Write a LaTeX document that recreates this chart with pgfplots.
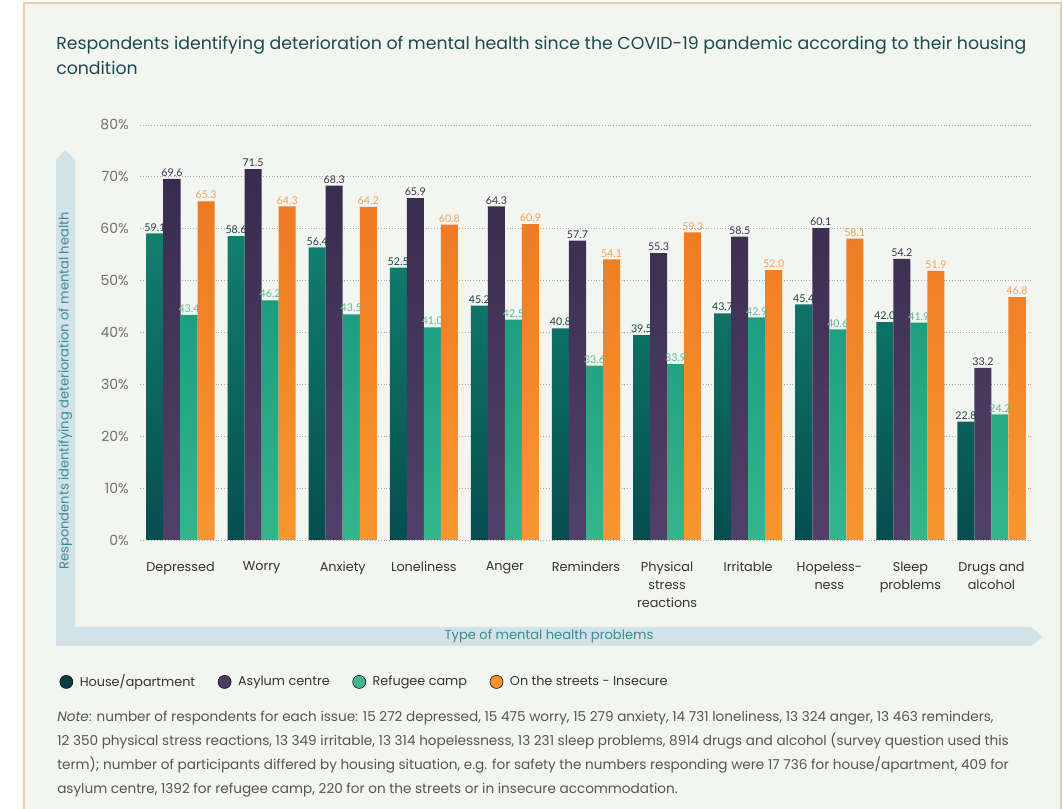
\documentclass[border=0pt]{standalone}
\usepackage{pgfplots}
\pgfplotsset{compat=1.18}
\usepackage{pgfplotstable}
\usepackage{fontspec}
\setmainfont{Poppins}
\newfontfamily\lato{Lato}

% palette
\definecolor{panelbg}{HTML}{F3F5F0}
\definecolor{framec}{HTML}{F2C9A6}
\definecolor{bandc}{HTML}{D2E3E8}
\definecolor{titlec}{HTML}{1B4A4F}
\definecolor{axistitle}{HTML}{3A8B93}
\definecolor{tickc}{HTML}{707070}
\definecolor{catc}{HTML}{333333}
\definecolor{notec}{HTML}{555555}
\definecolor{gridc}{HTML}{A8A8A8}

\definecolor{houseTop}{HTML}{11806F}
\definecolor{houseBot}{HTML}{064D4F}
\definecolor{houseLeg}{HTML}{073F44}
\definecolor{houseLab}{HTML}{1D4548}
\definecolor{asylTop}{HTML}{392B4D}
\definecolor{asylBot}{HTML}{514069}
\definecolor{asylLeg}{HTML}{4A3C63}
\definecolor{asylLab}{HTML}{3A3550}
\definecolor{refTop}{HTML}{1C9C7F}
\definecolor{refBot}{HTML}{34B68B}
\definecolor{refLeg}{HTML}{3DB88F}
\definecolor{refLab}{HTML}{5DBB95}
\definecolor{strTop}{HTML}{EF7A22}
\definecolor{strBot}{HTML}{F7962F}
\definecolor{strLeg}{HTML}{F7922E}
\definecolor{strLab}{HTML}{F2A257}

% share of respondents (%) by housing condition
\pgfplotstableread{
idx house asylum refugee streets
0   59.1  69.6   43.4    65.3
1   58.6  71.5   46.2    64.3
2   56.4  68.3   43.5    64.2
3   52.5  65.9   41.0    60.8
4   45.2  64.3   42.5    60.9
5   40.8  57.7   33.6    54.1
6   39.5  55.3   33.9    59.3
7   43.7  58.5   42.9    52.0
8   45.4  60.1   40.6    58.1
9   42.0  54.2   41.9    51.9
10  22.8  33.2   24.2    46.8
}\mhdata

\pgfplotsset{
  valuelabel/.style={
    draw=none, mark=none, forget plot,
    nodes near coords={\pgfmathprintnumber[fixed,fixed zerofill,precision=1]{\pgfplotspointmeta}},
    every node near coord/.append style={text=#1, anchor=south,
      font=\lato\fontsize{8}{9}\selectfont, inner sep=1.5pt},
  },
  shadedbar/.style 2 args={
    ybar, bar width=0.21, draw=none, top color=#1, bottom color=#2, forget plot,
  },
}

\begin{document}
\begin{tikzpicture}[x=0.75pt,y=0.75pt]
\useasboundingbox (0,0) rectangle (1063,809);
\fill[white] (0,0) rectangle (1063,809);
\fill[panelbg] (24,-5) rectangle (1061,806);
\draw[framec, line width=0.8pt] (24,-5) -- (24,806) -- (1061,806) -- (1061,-5);

% axis arrows
\fill[bandc] (56,163) -- (56,649) -- (65.5,659) -- (75,649) -- (75,182)
  -- (1031,182) -- (1043,172.5) -- (1031,163) -- cycle;
\node[rotate=90, text=axistitle, font=\fontsize{9.8}{12}\selectfont] at (65.5,418)
  {Respondents identifying deterioration of mental health};
\node[text=axistitle, font=\fontsize{9.8}{12}\selectfont] at (549,172.5)
  {Type of mental health problems};

% title
\node[anchor=base west, inner sep=0pt, text=titlec, font=\fontsize{13}{15}\selectfont] at (56,759)
  {Respondents identifying deterioration of mental health since the COVID-19 pandemic according to their housing};
\node[anchor=base west, inner sep=0pt, text=titlec, font=\fontsize{13}{15}\selectfont] at (56,734)
  {condition};

\begin{axis}[
  at={(105pt,201.75pt)}, anchor=south west,
  scale only axis, width=669pt, height=311.25pt,
  xmin=-0.5, xmax=10.5, ymin=0, ymax=80,
  axis line style={draw=none},
  major tick length=0pt,
  xtick={0,...,10},
  xticklabels={Depressed, Worry, Anxiety, Loneliness, Anger, Reminders,
    {Physical\\stress\\reactions}, Irritable, {Hopeless-\\ness},
    {Sleep\\problems}, {Drugs and\\alcohol}},
  xticklabel style={align=center, anchor=north, inner sep=0pt, yshift=-16pt,
    text=catc, font=\fontsize{9.6}{13.5}\selectfont},
  ytick={0,10,...,80},
  yticklabel={\pgfmathprintnumber{\tick}\%},
  /pgf/number format/assume math mode=true,
  yticklabel style={anchor=east, inner sep=0pt, xshift=-8.25pt,
    text=tickc, font=\fontsize{10.5}{12}\selectfont},
  ymajorgrids,
  grid style={gridc, line width=0.6pt, dash pattern=on 0.6pt off 1.5pt},
  legend columns=4,
  legend image code/.code={\fill[#1] (4.9pt,0pt) circle (4.9pt);},
  legend style={at={(-0.0905,-0.342)}, anchor=west, draw=none, fill=none,
    inner sep=0pt, font=\fontsize{9.6}{12}\selectfont, text=catc,
    /tikz/every odd column/.append style={column sep=3pt},
    /tikz/every even column/.append style={column sep=15pt}},
  legend cell align=left,
]
\addplot[shadedbar={houseTop}{houseBot}, bar shift=-0.315] table[x=idx,y=house]{\mhdata};
\addplot[shadedbar={asylTop}{asylBot}, bar shift=-0.105] table[x=idx,y=asylum]{\mhdata};
\addplot[shadedbar={refTop}{refBot}, bar shift=0.105] table[x=idx,y=refugee]{\mhdata};
\addplot[shadedbar={strTop}{strBot}, bar shift=0.315] table[x=idx,y=streets]{\mhdata};

% value labels, centred over each bar
\addplot[valuelabel=houseLab] table[x expr=\thisrow{idx}-0.315, y=house]{\mhdata};
\addplot[valuelabel=asylLab] table[x expr=\thisrow{idx}-0.105, y=asylum]{\mhdata};
\addplot[valuelabel=refLab] table[x expr=\thisrow{idx}+0.105, y=refugee]{\mhdata};
\addplot[valuelabel=strLab] table[x expr=\thisrow{idx}+0.315, y=streets]{\mhdata};

\addlegendimage{fill=houseLeg}
\addlegendimage{fill=asylLeg}
\addlegendimage{fill=refLeg}
\addlegendimage{fill=strLeg}
\legend{House/apartment, Asylum centre, Refugee camp, On the streets - Insecure}
\end{axis}

% note
\begin{scope}[every node/.style={anchor=base west, inner sep=0pt, text=notec, font=\fontsize{10.2}{12}\selectfont}]
\node at (57,87) {\textit{Note}: number of respondents for each issue: 15 272 depressed, 15 475 worry, 15 279 anxiety, 14 731 loneliness, 13 324 anger, 13 463 reminders,};
\node at (57,63) {12 350 physical stress reactions, 13 349 irritable, 13 314 hopelessness, 13 231 sleep problems, 8914 drugs and alcohol (survey question used this};
\node at (57,39) {term); number of participants differed by housing situation, e.g. for safety the numbers responding were 17 736 for house/apartment, 409 for};
\node at (57,15) {asylum centre, 1392 for refugee camp, 220 for on the streets or in insecure accommodation.};
\end{scope}
\end{tikzpicture}
\end{document}
